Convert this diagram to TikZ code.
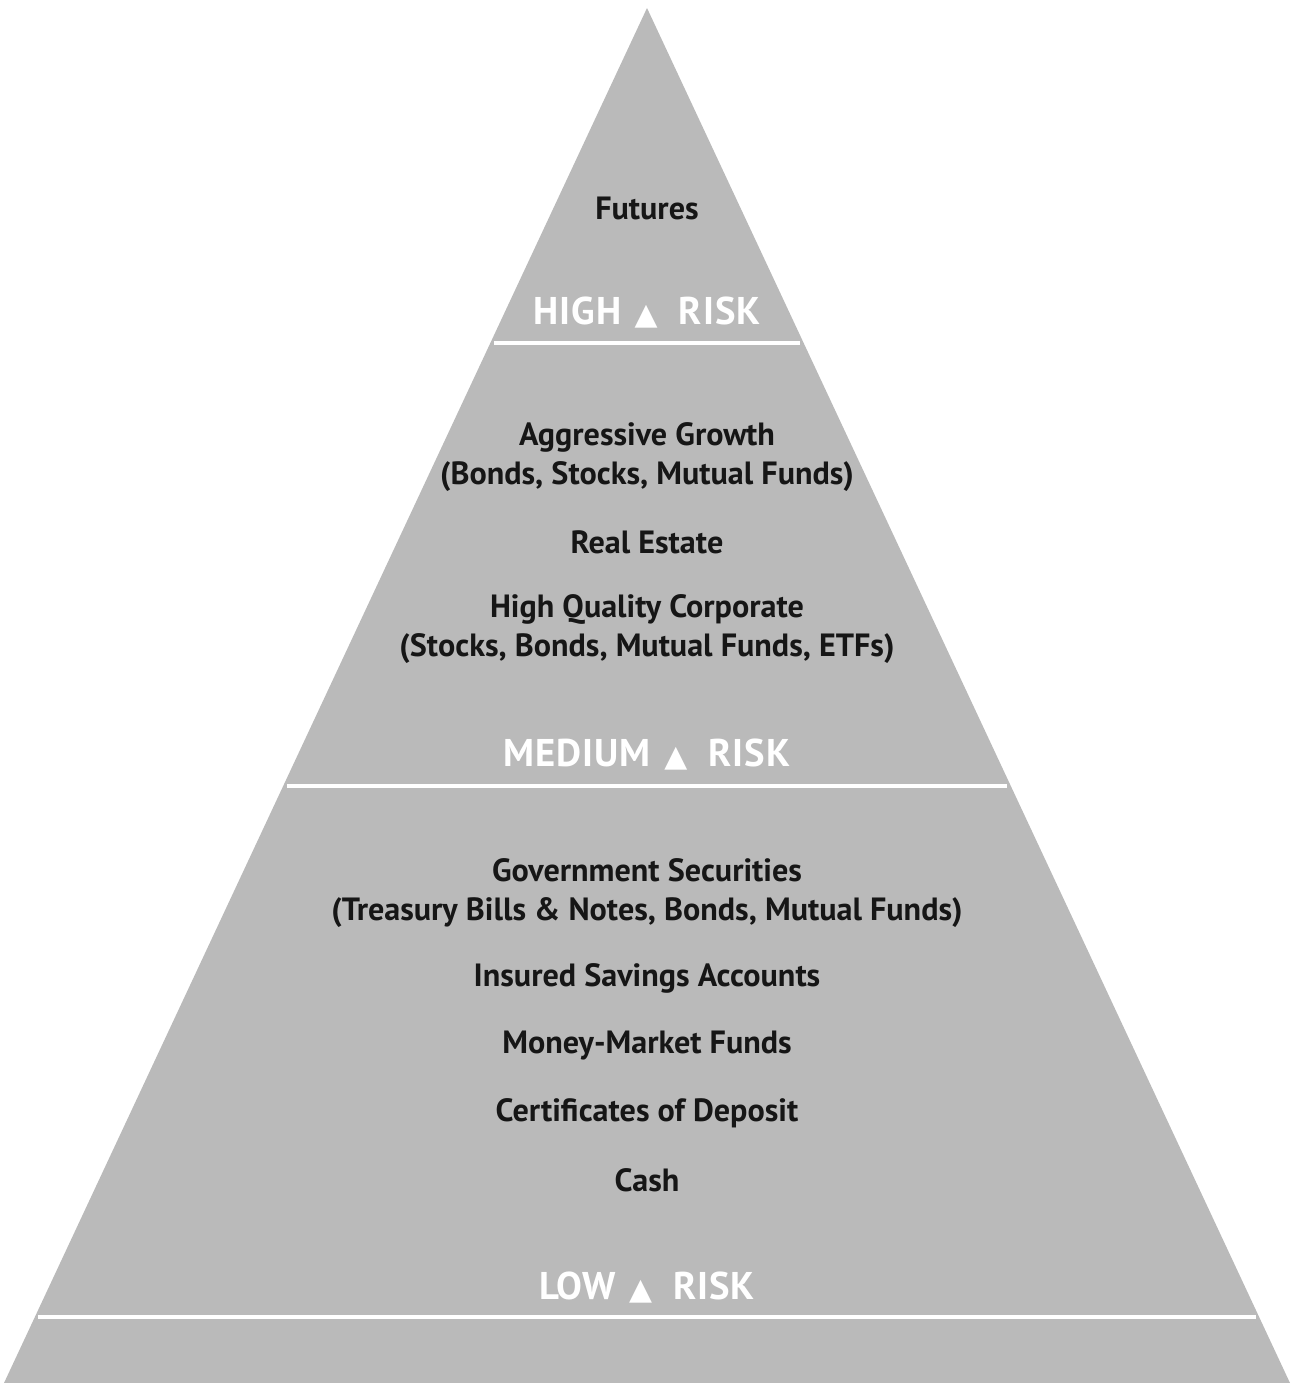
\documentclass[tikz,border=0pt]{standalone}
\usepackage{fontspec}
\setmainfont{PT Sans}
\newfontfamily\riskfont[LetterSpace=2.5]{PT Sans}
\newfontfamily\symfont{DejaVu Sans}
\usetikzlibrary{calc}
\definecolor{pyrgray}{RGB}{186,186,186}
\definecolor{ink}{RGB}{22,22,22}
\newcommand{\riskup}{\hspace{0.35em}{\symfont\fontsize{17}{17}\selectfont\raisebox{0ex}{▲}}\hspace{0.55em}}
\begin{document}
\begin{tikzpicture}[x=0.02cm,y=-0.02cm,
  item/.style={font=\bfseries\fontsize{18.3}{22}\selectfont,text=ink,align=center,inner sep=0pt},
  risk/.style={font=\riskfont\bfseries\fontsize{22}{22}\selectfont,text=white,inner sep=0pt},
  cut/.style={white,line width=2.6pt,shorten <=2pt,shorten >=2pt}]
\useasboundingbox (0,0) rectangle (1294,1383);
\coordinate (apex) at (647,8);
\coordinate (bl) at (4,1383);
\coordinate (br) at (1290,1383);
\fill[pyrgray] (apex) -- (br) -- (bl) -- cycle;
% bands
\draw[cut] ($(apex)!0.2436!(bl)$) -- ($(apex)!0.2436!(br)$);
\draw[cut] ($(apex)!0.5658!(bl)$) -- ($(apex)!0.5658!(br)$);
\draw[cut] ($(apex)!0.952!(bl)$) -- ($(apex)!0.952!(br)$);
% high
\node[item] (futures) at (647,208) {Futures};
\node[risk] (high) at (647,313) {HIGH\riskup RISK};
% medium
\node[item] (aggr) at (647,457) {Aggressive Growth\\(Bonds, Stocks, Mutual Funds)};
\node[item] (real) at (647,542) {Real Estate};
\node[item] (corp) at (647,629) {High Quality Corporate\\(Stocks, Bonds, Mutual Funds, ETFs)};
\node[risk] (medium) at (647,755) {MEDIUM\riskup RISK};
% low
\node[item] (gov) at (647,893) {Government Securities\\(Treasury Bills \& Notes, Bonds, Mutual Funds)};
\node[item] (savings) at (647,978) {Insured Savings Accounts};
\node[item] (mmf) at (647,1046) {Money-Market Funds};
\node[item] (cds) at (647,1113) {Certificates of Deposit};
\node[item] (cash) at (647,1180) {Cash};
\node[risk] (low) at (647,1288) {LOW\riskup RISK};
\end{tikzpicture}
\end{document}
